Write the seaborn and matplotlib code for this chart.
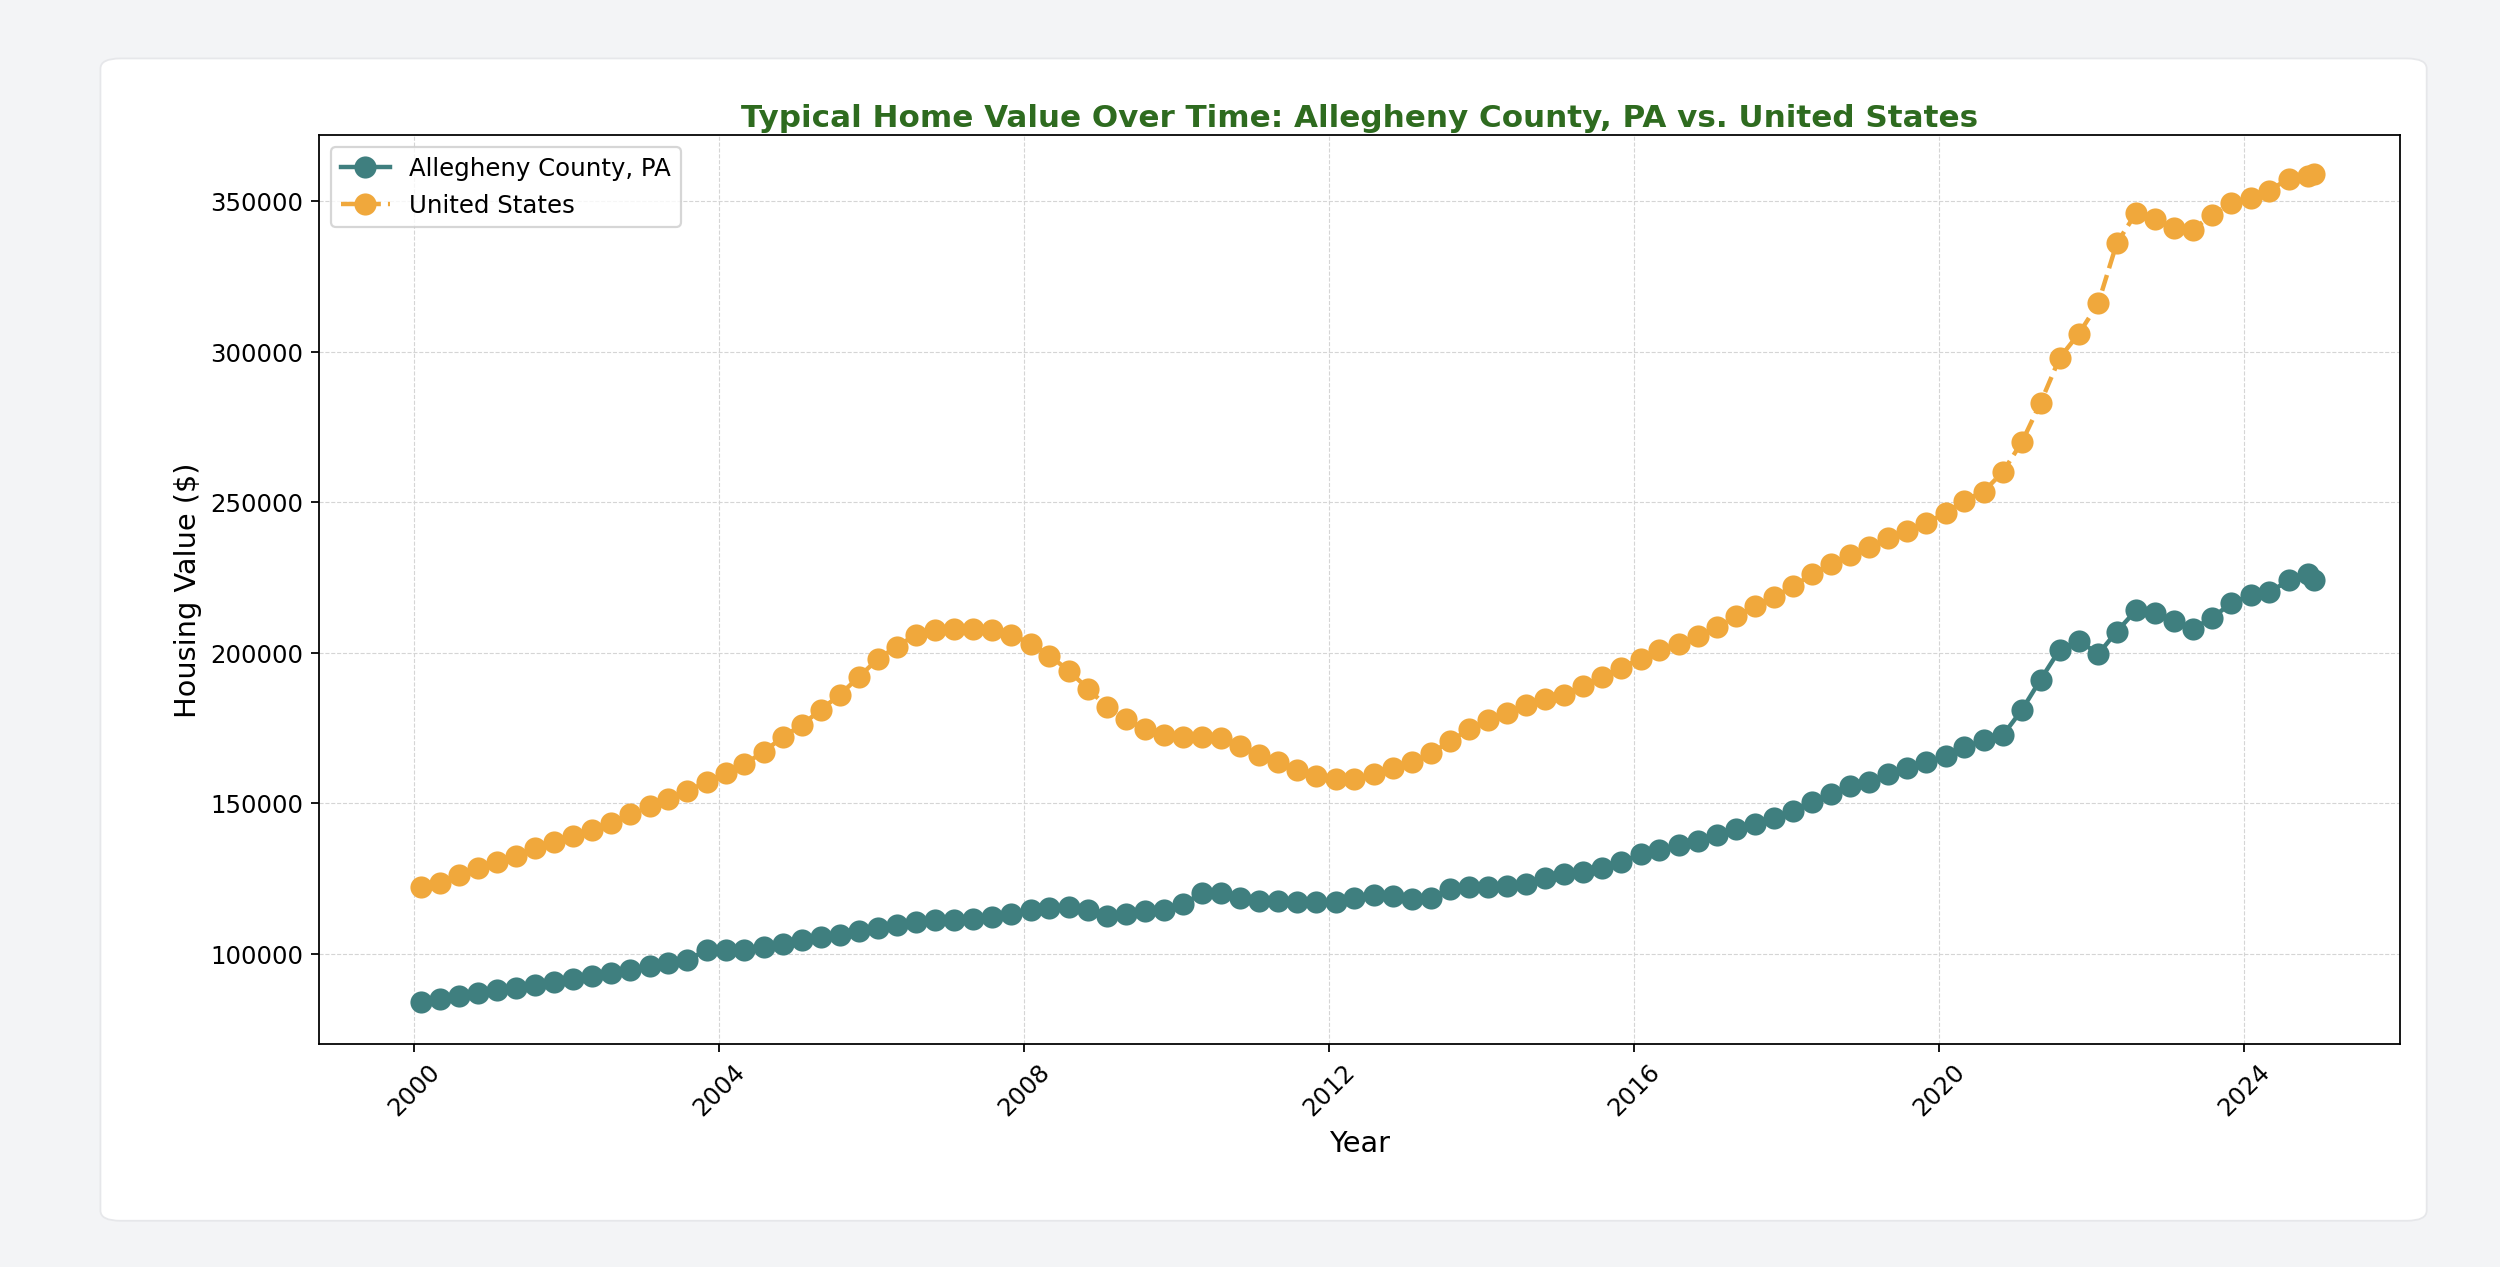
import matplotlib
matplotlib.use('Agg')

import matplotlib.pyplot as plt
from matplotlib.patches import FancyBboxPatch
import seaborn as sns
import pandas as pd

TEAL = '#3f7f7f'
ORANGE = '#f0a83c'
TITLE_GREEN = '#2e6b1f'
PAGE_BG = '#f3f4f6'

# Quarterly readings, 2000Q1 .. 2024Q4, plus Nov 2024
allegheny = [
    84000, 85000, 86000, 87000,
    88000, 88500, 89500, 90500,
    91500, 92500, 93500, 94500,
    96000, 97000, 98000, 101000,
    101000, 101000, 102000, 103000,
    104500, 105500, 106000, 107500,
    108500, 109500, 110500, 111000,
    111000, 111500, 112000, 113000,
    114500, 115000, 115500, 114500,
    112500, 113000, 114000, 114500,
    116500, 120000, 120000, 118500,
    117500, 117500, 117000, 117000,
    117000, 118500, 119500, 119000,
    118000, 118500, 121500, 122000,
    122000, 122500, 123000, 125000,
    126500, 127000, 128500, 130500,
    133000, 134500, 136000, 137500,
    139500, 141500, 143000, 145000,
    147500, 150500, 153000, 155500,
    157000, 159500, 161500, 163500,
    165500, 168500, 171000, 172500,
    181000, 191000, 201000, 204000,
    199500, 207000, 214000, 213000,
    210500, 208000, 211500, 216500,
    219000, 220000, 224000, 226000, 224000,
]
united_states = [
    122000, 123500, 126000, 128500,
    130500, 132500, 135000, 137000,
    139000, 141000, 143500, 146500,
    149000, 151500, 154000, 157000,
    160000, 163000, 167000, 172000,
    176000, 181000, 186000, 192000,
    198000, 202000, 206000, 207500,
    208000, 208000, 207500, 206000,
    203000, 199000, 194000, 188000,
    182000, 178000, 174500, 172500,
    172000, 172000, 171500, 169000,
    166000, 163500, 161000, 159000,
    158000, 158000, 159500, 161500,
    163500, 166500, 170500, 174500,
    177500, 180000, 182500, 184500,
    186000, 189000, 192000, 195000,
    198000, 201000, 203000, 205500,
    208500, 212000, 215500, 218500,
    222000, 226000, 229500, 232500,
    235000, 238000, 240500, 243000,
    246500, 250500, 253500, 260000,
    270000, 283000, 298000, 306000,
    316000, 336000, 346000, 344000,
    341000, 340500, 345500, 349500,
    351000, 353500, 357500, 358500, 359000,
]
dates = list(pd.date_range('2000-01-31', periods=100, freq='3MS')) + [pd.Timestamp('2024-11-30')]
year_ticks = ['2000', '2004', '2008', '2012', '2016', '2020', '2024']

df = pd.DataFrame({'Date': dates, 'Allegheny County, PA': allegheny,
                   'United States': united_states})

fig = plt.figure(figsize=(15.68, 7.95), dpi=159.44)
fig.patch.set_facecolor(PAGE_BG)
card = FancyBboxPatch((63 / 1568, 1 - 766 / 795), (1522 - 63) / 1568, (766 - 37) / 795,
                      boxstyle='round,pad=0,rounding_size=0.008',
                      transform=fig.transFigure, facecolor='white', edgecolor='#e6e7ea',
                      linewidth=0.8, zorder=-10)
fig.patches.append(card)

ax = fig.add_axes([200 / 1568, 1 - 655 / 795, (1505 - 200) / 1568, (655 - 85) / 795])
ax.set_zorder(5)
sns.lineplot(data=df, x='Date', y='Allegheny County, PA', color=TEAL, marker='o',
             markersize=10, markeredgewidth=0, linewidth=2, label='Allegheny County, PA', ax=ax)
sns.lineplot(data=df, x='Date', y='United States', color=ORANGE, marker='o',
             markersize=10, markeredgewidth=0, linewidth=2, linestyle='--',
             label='United States', ax=ax)

ax.set_xticks([pd.Timestamp(f'{y}-01-01') for y in year_ticks])
ax.set_xticklabels(year_ticks, rotation=45, fontsize=11)
ax.tick_params(axis='y', labelsize=11)
ax.set_ylim(70000, 372000)
ax.set_xlim(pd.Timestamp('1998-10-01'), pd.Timestamp('2026-01-15'))
ax.grid(True, linestyle='--', linewidth=0.5, color='#d5d5d5')
ax.set_axisbelow(True)
ax.set_xlabel('Year', fontsize=13)
ax.set_ylabel('Housing Value ($)', fontsize=13)
ax.set_title('Typical Home Value Over Time: Allegheny County, PA vs. United States',
             fontsize=14, fontweight='bold', color=TITLE_GREEN, pad=4)
ax.legend(loc='upper left', fontsize=11)

fig.savefig('out.png', dpi=159.44, facecolor=PAGE_BG)
